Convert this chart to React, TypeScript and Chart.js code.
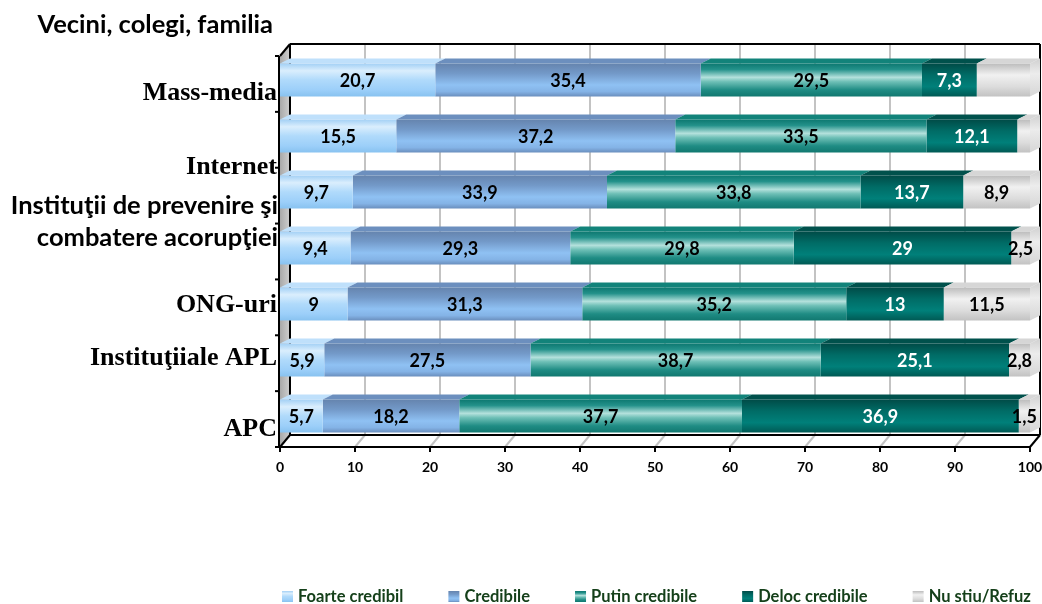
import React, { useEffect, useRef } from "react";
import { Chart, registerables } from "chart.js";

Chart.register(...registerables);

// ---- data ----
const categories: (string | string[])[] = [
  "Vecini, colegi, familia",
  "Mass-media",
  "Internet",
  ["Instituţii de prevenire şi", "combatere acorupţiei"],
  "ONG-uri",
  "Instituţiiale APL",
  "APC",
];
const seriesNames = ["Foarte credibil", "Credibile", "Putin credibile", "Deloc credibile", "Nu stiu/Refuz"];
const foarteCredibil = [20.7, 15.5, 9.7, 9.4, 9, 5.9, 5.7];
const credibile = [35.4, 37.2, 33.9, 29.3, 31.3, 27.5, 18.2];
const putinCredibile = [29.5, 33.5, 33.8, 29.8, 35.2, 38.7, 37.7];
const delocCredibile = [7.3, 12.1, 13.7, 29, 13, 25.1, 36.9];
const nuStiu = [7.1, 1.7, 8.9, 2.5, 11.5, 2.8, 1.5];
// value labels shown on the "Nu stiu/Refuz" segments (first two rows carry none)
const nuStiuLabelShown = [false, false, true, true, true, true, true];
const xTickValues = [0, 10, 20, 30, 40, 50, 60, 70, 80, 90, 100];

// ---- styling ----
const SANS = "Lato, 'Noto Sans', sans-serif";
const SERIF = "'Liberation Serif', 'DejaVu Serif', serif";

const seriesStops: [number, string][][] = [
  [[0, "#a3d0f5"], [0.22, "#daeefd"], [0.5, "#b0dafb"], [0.8, "#9ccff9"], [1, "#88c2f0"]],
  [[0, "#6584ae"], [0.3, "#7399c8"], [0.65, "#8fc1f3"], [0.85, "#84b3e6"], [1, "#6a8ebd"]],
  [[0, "#0d7870"], [0.18, "#23918a"], [0.42, "#b4e1dc"], [0.55, "#6fc0b7"], [0.8, "#1f8c84"], [1, "#117870"]],
  [[0, "#004b47"], [0.35, "#006c66"], [0.7, "#00807a"], [1, "#005954"]],
  [[0, "#bcbcbc"], [0.35, "#f1f1f1"], [0.7, "#dcdcdc"], [1, "#c2c2c2"]],
];
const seriesTopFace = ["#bfe0fb", "#6c8fbe", "#12837a", "#00514c", "#d6d6d6"];
const labelColors = ["#000", "#000", "#000", "#fff", "#000"];
const legendTextColor = "#15401a";

const categoryFont = ["sans", "serif", "serif", "sans", "serif", "serif", "serif"];
// baseline position of each label line relative to the bar centre
const categoryBaselineShift = [[-47], [-36], [-18], [-34, -2], [8], [5], [20]];
const categoryXShift = [-4, 0, 0, 1, 0, 0, 0];

const WALL_DX = 10;
const WALL_DY = 12;
const BAR_DX = 10;
const BAR_DY = 5;

function fmt(v: number) {
  return String(v).replace(".", ",");
}

function verticalGradient(ctx: CanvasRenderingContext2D, top: number, bottom: number, stops: [number, string][]) {
  const g = ctx.createLinearGradient(0, top, 0, bottom);
  stops.forEach(([o, c]) => g.addColorStop(o, c));
  return g;
}

const depthPlugin = {
  id: "depth3d",
  beforeDatasetsDraw(chart: any) {
    const { ctx, chartArea: a } = chart;
    const x = chart.scales.x;
    const fTop = a.top + 4;
    const fBot = a.bottom + 3;
    const bTop = fTop - WALL_DY;
    const bBot = fBot - WALL_DY;
    const L = x.getPixelForValue(0);
    const R = x.getPixelForValue(100);
    ctx.save();
    // back wall grid
    ctx.strokeStyle = "#c3c3c3";
    ctx.lineWidth = 2;
    xTickValues.slice(1, -1).forEach((v) => {
      const px = x.getPixelForValue(v) + WALL_DX;
      ctx.beginPath();
      ctx.moveTo(px, bTop);
      ctx.lineTo(px, bBot);
      ctx.stroke();
    });
    // floor grid
    xTickValues.slice(1, -1).forEach((v) => {
      const px = x.getPixelForValue(v);
      ctx.beginPath();
      ctx.moveTo(px, fBot);
      ctx.lineTo(px + WALL_DX, bBot);
      ctx.stroke();
    });
    // left wall
    const wg = ctx.createLinearGradient(L, 0, L + WALL_DX, 0);
    wg.addColorStop(0, "#a9a9a9");
    wg.addColorStop(1, "#cfcfcf");
    ctx.fillStyle = wg;
    ctx.beginPath();
    ctx.moveTo(L, fTop);
    ctx.lineTo(L + WALL_DX, bTop);
    ctx.lineTo(L + WALL_DX, bBot);
    ctx.lineTo(L, fBot);
    ctx.closePath();
    ctx.fill();
    // frame edges
    ctx.strokeStyle = "#000";
    ctx.lineWidth = 2;
    const seg = (x1: number, y1: number, x2: number, y2: number) => {
      ctx.beginPath();
      ctx.moveTo(x1, y1);
      ctx.lineTo(x2, y2);
      ctx.stroke();
    };
    seg(L + WALL_DX, bTop, R + WALL_DX, bTop);
    seg(R + WALL_DX, bTop, R + WALL_DX, bBot);
    seg(L + WALL_DX, bTop, L + WALL_DX, bBot);
    seg(L + WALL_DX, bBot, R + WALL_DX, bBot);
    seg(L, fBot, R, fBot);
    seg(R, fBot, R + WALL_DX, bBot);
    seg(L, fBot, L + WALL_DX, bBot);
    seg(L, fTop, L + WALL_DX, bTop);
    xTickValues.forEach((v) => {
      const px = x.getPixelForValue(v);
      seg(px, fBot, px, fBot + 5);
    });
    ctx.restore();
  },
  afterDatasetsDraw(chart: any) {
    const { ctx, chartArea: a } = chart;
    const x = chart.scales.x;
    const L = x.getPixelForValue(0);
    const fTop = a.top + 4;
    const fBot = a.bottom + 3;
    const n = categories.length;
    ctx.save();
    const last = chart.data.datasets.length - 1;
    chart.data.datasets.forEach((ds: any, di: number) => {
      const meta = chart.getDatasetMeta(di);
      meta.data.forEach((el: any) => {
        const { x: ex, y, base, height } = el.getProps(["x", "y", "base", "height"], true);
        const top = y - height / 2;
        const bottom = y + height / 2;
        ctx.fillStyle = seriesTopFace[di];
        ctx.beginPath();
        ctx.moveTo(base, top);
        ctx.lineTo(ex, top);
        ctx.lineTo(ex + BAR_DX, top - BAR_DY);
        ctx.lineTo(base + BAR_DX, top - BAR_DY);
        ctx.closePath();
        ctx.fill();
        if (di === last) {
          const eg = ctx.createLinearGradient(0, top - BAR_DY, 0, bottom);
          eg.addColorStop(0, "#d0d0d0");
          eg.addColorStop(0.4, "#ececec");
          eg.addColorStop(1, "#d6d6d6");
          ctx.fillStyle = eg;
          ctx.beginPath();
          ctx.moveTo(ex, top);
          ctx.lineTo(ex + BAR_DX, top - BAR_DY);
          ctx.lineTo(ex + BAR_DX, bottom - BAR_DY);
          ctx.lineTo(ex, bottom);
          ctx.closePath();
          ctx.fill();
        }
      });
    });
    // value labels
    ctx.font = `bold 18px ${SANS}`;
    ctx.textAlign = "center";
    ctx.textBaseline = "middle";
    chart.data.datasets.forEach((ds: any, di: number) => {
      const meta = chart.getDatasetMeta(di);
      meta.data.forEach((el: any, i: number) => {
        if (di === last && !nuStiuLabelShown[i]) return;
        const { x: ex, y, base } = el.getProps(["x", "y", "base"], true);
        ctx.fillStyle = labelColors[di];
        ctx.fillText(fmt(ds.data[i]), (ex + base) / 2, y + 1);
      });
    });
    // front value axis line with category ticks
    ctx.strokeStyle = "#000";
    ctx.lineWidth = 2;
    ctx.beginPath();
    ctx.moveTo(L - 1, fTop);
    ctx.lineTo(L - 1, fBot);
    ctx.stroke();
    for (let i = 0; i <= n; i++) {
      const ty = fTop + ((fBot - fTop) * i) / n;
      ctx.beginPath();
      ctx.moveTo(L - 5, ty);
      ctx.lineTo(L - 1, ty);
      ctx.stroke();
    }
    ctx.restore();
  },
  afterDraw(chart: any) {
    const { ctx, chartArea: a } = chart;
    const x = chart.scales.x;
    const y = chart.scales.y;
    const fBot = a.bottom + 3;
    ctx.save();
    // category labels
    ctx.fillStyle = "#000";
    ctx.textAlign = "right";
    ctx.textBaseline = "alphabetic";
    categories.forEach((c, i) => {
      const lines = Array.isArray(c) ? c : [c];
      const yc = y.getPixelForValue(i);
      ctx.font = categoryFont[i] === "serif" ? `bold 26px ${SERIF}` : `bold 25.5px ${SANS}`;
      lines.forEach((line, li) => {
        ctx.fillText(line, a.left - 3 + categoryXShift[i], yc + categoryBaselineShift[i][li]);
      });
    });
    // value axis tick labels
    ctx.font = `bold 14px ${SANS}`;
    ctx.textAlign = "center";
    ctx.textBaseline = "middle";
    xTickValues.forEach((v) => {
      ctx.fillText(String(v), x.getPixelForValue(v), fBot + 20);
    });
    // legend
    ctx.font = `bold 16.5px ${SANS}`;
    ctx.textAlign = "left";
    let lx = a.left + 2;
    const ly = 597;
    seriesNames.forEach((name, i) => {
      ctx.fillStyle = verticalGradient(ctx, ly - 6, ly + 5, seriesStops[i]);
      ctx.fillRect(lx, ly - 6, 11, 11);
      ctx.fillStyle = legendTextColor;
      ctx.fillText(name, lx + 16, ly);
      lx += 16 + ctx.measureText(name).width + 45;
    });
    ctx.restore();
  },
};

export default function App() {
  const canvasRef = useRef<HTMLCanvasElement | null>(null);

  useEffect(() => {
    const canvas = canvasRef.current;
    if (!canvas) return;
    const values = [foarteCredibil, credibile, putinCredibile, delocCredibile, nuStiu];
    const chart = new Chart(canvas, {
      type: "bar",
      data: {
        labels: categories,
        datasets: seriesNames.map((name, i) => ({
          label: name,
          data: values[i],
          borderWidth: 0,
          barPercentage: 0.59,
          categoryPercentage: 1,
          backgroundColor: (ctx: any) => {
            const ch = ctx.chart;
            const ys = ch.scales?.y;
            if (!ch.chartArea || !ys) return seriesStops[i][2][1];
            const yc = ys.getPixelForValue(ctx.dataIndex);
            const band = Math.abs(ys.getPixelForValue(1) - ys.getPixelForValue(0));
            const h = band * 0.59;
            return verticalGradient(ch.ctx, yc - h / 2, yc + h / 2, seriesStops[i]);
          },
        })),
      },
      options: {
        indexAxis: "y",
        responsive: false,
        animation: false,
        devicePixelRatio: 1,
        layout: { padding: { left: 280, right: 12, top: 52, bottom: 160 } },
        scales: {
          x: { stacked: true, min: 0, max: 100, display: false },
          y: { stacked: true, display: false },
        },
        plugins: {
          legend: { display: false },
          tooltip: { enabled: false },
        },
      },
      plugins: [depthPlugin],
    });
    return () => chart.destroy();
  }, []);

  return (
    <div style={{ position: "fixed", left: 0, top: 0, width: 1042, height: 604, background: "#fff" }}>
      <canvas ref={canvasRef} width={1042} height={604} style={{ display: "block" }} />
    </div>
  );
}
